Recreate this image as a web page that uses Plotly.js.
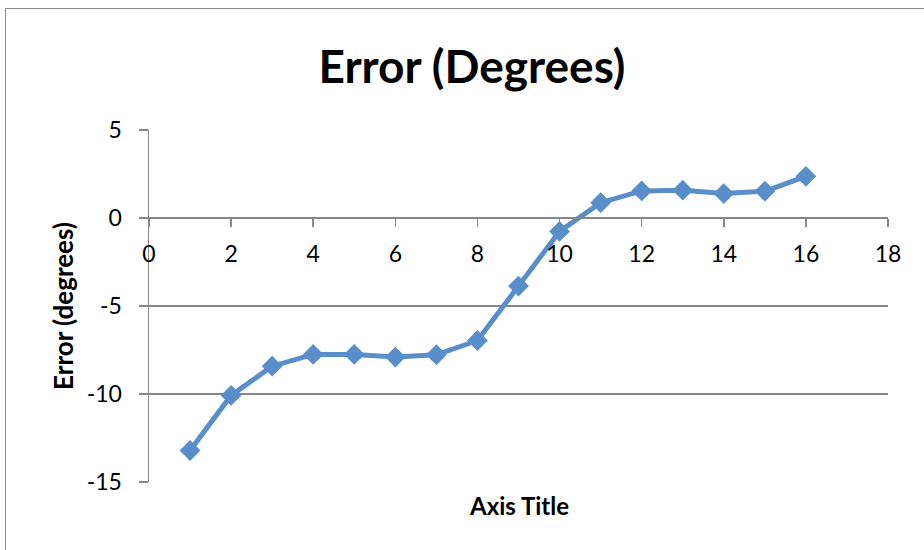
<!DOCTYPE html>
<html>
<head>
<meta charset="utf-8">
<script src="https://cdn.plot.ly/plotly-3.0.1.min.js"></script>
<style>
  html, body { margin: 0; padding: 0; background: #fff; }
  #frame { position: absolute; left: 5px; top: 8px; width: 1000px; height: 700px; border: 1.5px solid #8c8c8c; box-sizing: border-box; }
  #chart { position: absolute; left: 0; top: 0; width: 924px; height: 550px; }
</style>
</head>
<body>
<div id="frame"></div>
<div id="chart"></div>
<script>
const xValues = [1, 2, 3, 4, 5, 6, 7, 8, 9, 10, 11, 12, 13, 14, 15, 16];
const errorValues = [-13.21, -10.08, -8.42, -7.75, -7.75, -7.9, -7.77, -6.96, -3.87, -0.76, 0.87, 1.54, 1.58, 1.39, 1.52, 2.37];
const xTicks = [0, 2, 4, 6, 8, 10, 12, 14, 16, 18];
const yTicks = [-15, -10, -5, 0, 5];

const FONT = 'Lato, "Open Sans", sans-serif';
const GRID = '#878787';

const trace = {
  x: xValues,
  y: errorValues,
  type: 'scatter',
  mode: 'lines+markers',
  line: { color: '#5a8ecb', width: 5 },
  marker: { symbol: 'diamond', size: 16, color: '#5a8ecb' },
  showlegend: false,
  cliponaxis: false
};

const layout = {
  width: 924,
  height: 550,
  paper_bgcolor: 'rgba(0,0,0,0)',
  plot_bgcolor: 'rgba(0,0,0,0)',
  margin: { l: 149, r: 36, t: 130, b: 68 },
  title: {
    text: '<b>Error (Degrees)</b>',
    font: { family: FONT, size: 46, color: '#000' },
    x: 472 / 924, xref: 'container', xanchor: 'center',
    y: 1 - 67 / 550, yref: 'container', yanchor: 'middle'
  },
  xaxis: {
    range: [0, 18],
    tickvals: xTicks,
    ticktext: xTicks.map(String),
    anchor: 'free',
    position: (481.7 - 217.7) / 351.7,
    showgrid: false,
    zeroline: false,
    showline: true,
    linecolor: GRID,
    linewidth: 1.5,
    ticks: 'outside',
    ticklen: 8,
    tickwidth: 1.5,
    tickcolor: GRID,
    ticklabelstandoff: 7,
    tickfont: { family: FONT, size: 23, color: '#000' },
    fixedrange: true
  },
  yaxis: {
    range: [-15, 5],
    tickvals: yTicks,
    ticktext: yTicks.map(String),
    showgrid: true,
    gridcolor: GRID,
    gridwidth: 1.5,
    zeroline: false,
    showline: true,
    linecolor: GRID,
    linewidth: 1.5,
    ticks: 'outside',
    ticklen: 9,
    tickwidth: 1.5,
    tickcolor: GRID,
    ticklabelstandoff: 12,
    tickfont: { family: FONT, size: 23, color: '#000' },
    title: {
      text: '<b>Error (degrees)</b>',
      font: { family: FONT, size: 26, color: '#000' },
      standoff: 5
    },
    automargin: false,
    fixedrange: true
  },
  annotations: [{
    text: '<b>Axis Title</b>',
    xref: 'paper', yref: 'paper',
    x: 0.5, y: -(505 - 481.7) / 351.7,
    xanchor: 'center', yanchor: 'middle',
    showarrow: false,
    font: { family: FONT, size: 24, color: '#000' }
  }]
};

Plotly.newPlot('chart', [trace], layout, { displayModeBar: false, staticPlot: true });
</script>
</body>
</html>
